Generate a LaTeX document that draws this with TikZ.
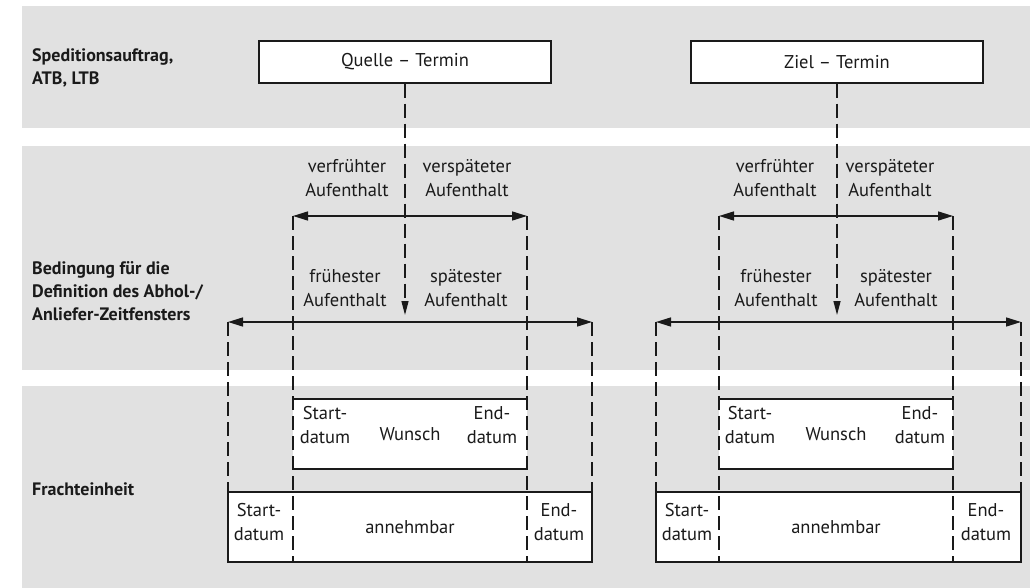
\documentclass[tikz,border=0pt]{standalone}
\usepackage{fontspec}
\setmainfont{PT Sans}
\usetikzlibrary{arrows.meta}
\definecolor{bandgray}{HTML}{E1E1E1}
\definecolor{ink}{HTML}{1A1A1A}

\begin{document}
\begin{tikzpicture}[x=1pt,y=-1pt,
  rowlabel/.style={font=\fontsize{18}{23}\selectfont\bfseries, align=left, anchor=west, inner sep=0pt, text=ink},
  txt/.style={font=\fontsize{18.5}{23.5}\selectfont, align=center, inner sep=0pt, text=ink},
  terminbox/.style={draw=ink, fill=white, line width=1.4pt, minimum width=292pt, minimum height=42pt,
    inner sep=0pt, font=\fontsize{18.5}{23.5}\selectfont, text=ink},
  guide/.style={draw=ink, line width=1.3pt, dash pattern=on 14pt off 6pt},
  solidline/.style={draw=ink, line width=1.4pt},
  span/.style={draw=ink, line width=1.5pt, {Triangle[length=15pt,width=9pt]}-{Triangle[length=15pt,width=9pt]}},
  drop/.style={guide, -{Triangle[length=14pt,width=7pt]}},
]
\useasboundingbox (0,0) rectangle (1030,588);

% horizontal bands
\fill[bandgray] (22,6) rectangle (1030,128);
\fill[bandgray] (22,146) rectangle (1030,370);
\fill[bandgray] (22,386) rectangle (1030,588);

% row labels
\node[rowlabel] (lab-auftrag) at (32,68) {Speditionsauftrag,\\ATB, LTB};
\node[rowlabel] (lab-bedingung) at (32,291) {Bedingung für die\\Definition des Abhol-/\\Anliefer-Zeitfensters};
\node[rowlabel] (lab-fracht) at (32,489) {Frachteinheit};

% one block per appointment (source / destination)
\foreach \grp/\cx/\inl/\inr/\outl/\outr/\nm/\vfx/\vsx/\ffx/\fsx/\wsx/\wmx/\wex/\asx/\amx/\aex in
  {q/405/293/527/228/592/Quelle/347/467/345/466/325/410/492/259/410/559,
   z/837/719/953/656/1021/Ziel/775/890/776/896/750/836/920/687/836/986}{
  % white boxes of the freight unit
  \fill[white] (\inl,399) rectangle (\inr,469);
  \draw[solidline] (\inl,399) -- (\inr,399);
  \draw[solidline] (\inl,469) -- (\inr,469);
  \filldraw[solidline, fill=white] (\outl,492) rectangle (\outr,562);

  % appointment box
  \node[terminbox] (box-\grp) at (\cx,62) {\nm\ \textendash\ Termin};

  % arrow end points
  \coordinate (ua-l-\grp) at (\inl,216);
  \coordinate (ua-r-\grp) at (\inr,216);
  \coordinate (la-l-\grp) at (\outl,322);
  \coordinate (la-r-\grp) at (\outr,322);
  \coordinate (tip-\grp) at (\cx,315);
  \coordinate (ib-l-\grp) at (\inl,562);
  \coordinate (ib-r-\grp) at (\inr,562);
  \coordinate (ob-l-\grp) at (\outl,492);
  \coordinate (ob-r-\grp) at (\outr,492);

  % dashed guides
  \draw[drop] (box-\grp.south) -- (tip-\grp);
  \draw[guide] (ua-l-\grp) -- (ib-l-\grp);
  \draw[guide] (ua-r-\grp) -- (ib-r-\grp);
  \draw[guide] (la-l-\grp) -- (ob-l-\grp);
  \draw[guide] (la-r-\grp) -- (ob-r-\grp);

  % stay windows
  \draw[span] (ua-l-\grp) -- (ua-r-\grp);
  \draw[span] (la-l-\grp) -- (la-r-\grp);

  % labels
  \node[txt] (vf-\grp) at (\vfx,178) {verfrühter\\Aufenthalt};
  \node[txt] (vs-\grp) at (\vsx,178) {verspäteter\\Aufenthalt};
  \node[txt] (ff-\grp) at (\ffx,288) {frühester\\Aufenthalt};
  \node[txt] (fs-\grp) at (\fsx,288) {spätester\\Aufenthalt};

  \node[txt] (ws-\grp) at (\wsx,425) {Start-\\datum};
  \node[txt] (wm-\grp) at (\wmx,434) {Wunsch};
  \node[txt] (we-\grp) at (\wex,425) {End-\\datum};

  \node[txt] (as-\grp) at (\asx,522) {Start-\\datum};
  \node[txt] (am-\grp) at (\amx,527) {annehmbar};
  \node[txt] (ae-\grp) at (\aex,522) {End-\\datum};
}
\end{tikzpicture}
\end{document}
